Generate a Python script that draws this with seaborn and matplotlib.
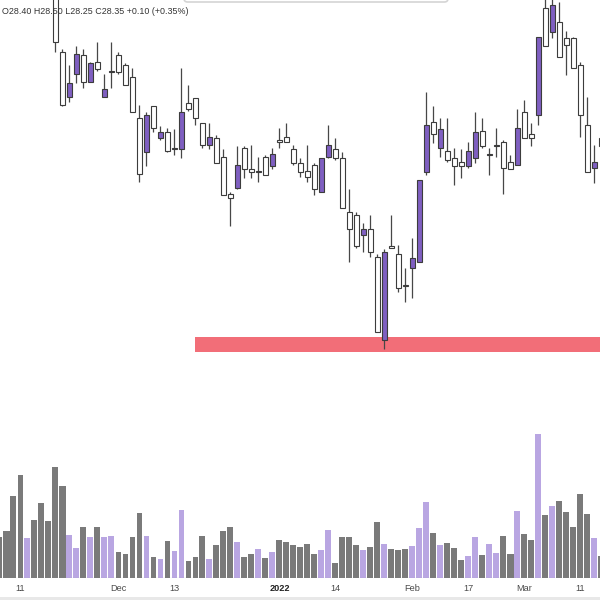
import numpy as np
import matplotlib
matplotlib.use('Agg')
import matplotlib.pyplot as plt
import seaborn as sns
from matplotlib.patches import Rectangle, FancyBboxPatch

# daily bars, index 0..86 (Nov 2021 - Mar 2022)
bar_idx = np.arange(87)

opens = [29.95, 29.85, 29.70, 29.50, 29.42, 29.62, 29.52, 29.58,
         29.50, 28.96, 28.67, 28.82, 28.94, 28.77, 28.90, 28.67, 28.83, 28.94,
         28.88, 28.80, 28.53, 28.31, 28.61, 28.40, 28.44, 28.33, 28.33, 28.63,
         28.66, 28.50, 28.36, 28.40, 28.28, 28.04, 28.08, 28.34, 28.20, 28.18,
         28.28, 28.22, 28.39, 28.41, 28.33, 28.24, 28.19, 28.23, 28.05, 28.28,
         28.33, 28.27, 27.92, 27.90, 27.77, 27.81, 27.63, 27.09, 27.70, 27.65,
         27.45, 27.56, 27.60, 28.18, 28.51, 28.34, 28.32, 28.27, 28.25, 28.22,
         28.27, 28.45, 28.29, 28.35, 28.38, 28.25, 28.23, 28.57, 28.43, 28.55,
         29.25, 29.09, 29.16, 29.05, 29.05, 28.88, 28.49, 28.21, 28.40]
highs = [30.05, 29.92, 29.78, 29.60, 29.70, 29.66, 29.60, 29.70,
         29.59, 28.98, 28.88, 29.00, 28.98, 28.90, 29.03, 28.82, 29.03, 28.96,
         28.89, 28.86, 28.62, 28.57, 28.61, 28.48, 28.47, 28.46, 28.86, 28.75,
         28.66, 28.50, 28.50, 28.42, 28.33, 28.05, 28.35, 28.35, 28.36, 28.28,
         28.29, 28.34, 28.47, 28.50, 28.36, 28.27, 28.36, 28.24, 28.27, 28.49,
         28.40, 28.31, 28.07, 27.92, 27.85, 27.90, 27.65, 27.68, 27.90, 27.71,
         27.56, 27.75, 28.13, 28.70, 28.61, 28.53, 28.53, 28.34, 28.33, 28.38,
         28.57, 28.53, 28.34, 28.47, 28.39, 28.29, 28.59, 28.65, 28.50, 29.06,
         29.33, 29.33, 29.29, 29.10, 29.06, 28.90, 28.67, 28.36, 28.50]
lows = [29.80, 29.62, 29.40, 29.35, 29.40, 29.45, 29.36, 29.48,
        28.96, 28.61, 28.64, 28.76, 28.73, 28.77, 28.84, 28.67, 28.73, 28.82,
        28.75, 28.57, 28.12, 28.22, 28.44, 28.39, 28.31, 28.29, 28.27, 28.58,
        28.49, 28.34, 28.33, 28.24, 28.03, 27.83, 28.07, 28.14, 28.14, 28.12,
        28.16, 28.20, 28.34, 28.38, 28.23, 28.15, 28.12, 28.03, 28.05, 28.27,
        28.26, 27.95, 27.60, 27.69, 27.66, 27.63, 27.14, 27.03, 27.69, 27.40,
        27.34, 27.36, 27.60, 28.16, 28.37, 28.28, 28.25, 28.10, 28.14, 28.21,
        28.24, 28.34, 28.16, 28.28, 28.04, 28.20, 28.23, 28.40, 28.35, 28.49,
        29.00, 29.05, 28.93, 28.81, 28.86, 28.41, 28.18, 28.11, 28.25]
closes = [29.85, 29.68, 29.48, 29.42, 29.62, 29.50, 29.40, 29.52,
          29.03, 28.62, 28.76, 28.95, 28.77, 28.89, 28.85, 28.72, 28.84, 28.83,
          28.75, 28.57, 28.17, 28.55, 28.47, 28.44, 28.32, 28.34, 28.57, 28.59,
          28.53, 28.36, 28.41, 28.24, 28.03, 28.01, 28.23, 28.20, 28.18, 28.19,
          28.16, 28.30, 28.38, 28.38, 28.24, 28.18, 28.15, 28.07, 28.27, 28.36,
          28.27, 27.95, 27.81, 27.70, 27.81, 27.66, 27.14, 27.66, 27.69, 27.43,
          27.44, 27.62, 28.13, 28.49, 28.43, 28.46, 28.26, 28.22, 28.22, 28.32,
          28.44, 28.35, 28.30, 28.36, 28.21, 28.20, 28.47, 28.40, 28.40, 29.06,
          29.00, 29.27, 28.93, 29.01, 28.86, 28.55, 28.18, 28.25, 28.35]
# volume, thousands of shares
volume = [410, 470, 820, 1030, 400, 580, 750, 570, 1110, 920, 430, 300,
          510, 410, 510, 410, 420, 260, 240, 410, 650, 420, 210, 190,
          370, 270, 680, 170, 210, 420, 190, 330, 470, 510, 360, 210,
          240, 290, 200, 260, 380, 360, 330, 310, 340, 240, 280, 480,
          150, 410, 410, 330, 280, 310, 560, 340, 290, 280, 290, 320,
          500, 760, 450, 330, 350, 300, 180, 220, 410, 230, 340, 250,
          420, 240, 670, 440, 380, 1440, 630, 720, 770, 660, 510, 840,
          640, 400, 220]

tick_bars = [3, 17, 25, 40, 48, 59, 67, 75, 83]
tick_labels = ['11', 'Dec', '13', '2022', '14', 'Feb', '17', 'Mar', '11']

# support zone drawn on the chart
zone_start = 27.93
zone_low, zone_high = 27.01, 27.11

UP_FILL = '#7f5fc1'
UP_VOL = '#b9a6e2'
DOWN_VOL = '#7a7a7a'
EDGE = '#3c3c3c'

sns.set_style('white')
plt.rcParams['font.family'] = ['Liberation Sans', 'DejaVu Sans']

o = np.array(opens)
c = np.array(closes)
up = c > o
direction = np.where(up, 'up', 'down')

fig = plt.figure(figsize=(6, 6), dpi=100)
rect = [0, 22 / 600, 1, 578 / 600]
xlim = (0.5 / 7, 600.5 / 7)

# volume pane
axv = fig.add_axes(rect)
sns.barplot(x=bar_idx, y=volume, hue=direction, palette={'up': UP_VOL, 'down': DOWN_VOL},
            dodge=False, width=6 / 7, saturation=1, errorbar=None, linewidth=0,
            legend=False, ax=axv)
axv.set_xlim(*xlim)
axv.set_ylim(0, max(volume) * 578 / 144)
for s in axv.spines.values():
    s.set_visible(False)
axv.axhline(0, color='#9c9c9c', lw=0.8)
axv.set_yticks([])
axv.set_xlabel('')
axv.set_ylabel('')
axv.set_xticks(tick_bars, tick_labels)
axv.tick_params(axis='x', length=0, pad=4.5, labelsize=6.6, labelcolor='#4a4a4a')
for lab in axv.get_xticklabels():
    if lab.get_text() == '2022':
        lab.set_fontweight('bold')
        lab.set_color('#222222')

# price pane
ax = fig.add_axes(rect)
ax.patch.set_alpha(0)
ax.set_xlim(*xlim)
ax.set_ylim(29.30 - 0.0065 * 578, 29.30)
ax.axis('off')

ax.add_patch(Rectangle((zone_start, zone_low), 100, zone_high - zone_low,
                       color='#f26e78', lw=0, zorder=1))
ax.vlines(bar_idx, lows, highs, color='#474747', lw=0.9, zorder=2)
ax.bar(bar_idx, np.abs(c - o), bottom=np.minimum(o, c), width=5 / 7,
       color=np.where(up, UP_FILL, 'white'), edgecolor=EDGE, linewidth=0.8, zorder=3)

# legend line at the top
fig.text(2 / 600, 1 - 11 / 600, 'O28.40 H28.50 L28.25 C28.35 +0.10 (+0.35%)',
         fontsize=6.4, color='#333333', va='center', ha='left')

# edge of a popup box at the top and time-axis strip at the bottom
fig.patches.append(FancyBboxPatch((184 / 600, 1 - 2 / 600), (448 - 184) / 600, 0.05,
                                  boxstyle='round,pad=0,rounding_size=0.006',
                                  transform=fig.transFigure, fc='white', ec='#d4d4d4',
                                  lw=1.2, zorder=10))
fig.patches.append(Rectangle((0, 0), 1, 3 / 600, transform=fig.transFigure,
                             color='#e8e8e8', lw=0))

fig.savefig('out.png', dpi=100)
